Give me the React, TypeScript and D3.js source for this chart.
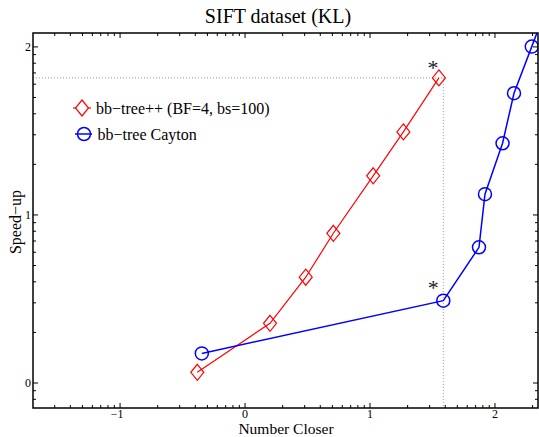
import React from 'react';
import * as d3 from 'd3';

// values (both axes are log10)
const bbTreePPX = [0.415, 1.585, 3.06, 5.09, 10.6, 18.5, 35.6];
const bbTreePPY = [1.158, 2.267, 4.26, 7.78, 17.1, 31.2, 65.4];
const caytonX = [0.451, 38.6, 74.5, 83.2, 115, 142, 197, 310];
const caytonY = [1.5, 3.09, 6.42, 13.3, 26.7, 53.0, 100.4, 245];
const seriesNames = ['bb\u2212tree++ (BF=4, bs=100)', 'bb\u2212tree Cayton'];
const starIndex = [6, 1];

const W = 539;
const H = 437;
const margin = { top: 33, right: 1, bottom: 29, left: 33 };
const font = '"Liberation Serif", "Times New Roman", serif';

function expLabel(v: number) {
  const e = Math.round(Math.log10(v));
  return e < 0 ? '\u2212' + Math.abs(e) : String(e);
}

function isMajor(v: number) {
  const l = Math.log10(v);
  return Math.abs(l - Math.round(l)) < 1e-6;
}

export default function App() {
  const x = d3
    .scaleLog()
    .domain([0.0201, 221])
    .range([margin.left, W - margin.right]);
  const y = d3
    .scaleLog()
    .domain([0.71, 121])
    .range([H - margin.bottom, margin.top]);

  const [x0, x1] = x.range();
  const [y0, y1] = y.range();

  const red = bbTreePPX.map((d, i) => [x(d), y(bbTreePPY[i])] as [number, number]);
  const blue = caytonX.map((d, i) => [x(d), y(caytonY[i])] as [number, number]);
  const line = d3.line();

  const inside = (p: [number, number]) => p[0] >= x0 - 1 && p[0] <= x1 + 1 && p[1] >= y1 - 1 && p[1] <= y0 + 1;

  const xt = x.ticks();
  const yt = y.ticks();

  const diamond = (cx: number, cy: number) =>
    `M${cx},${cy - 8}L${cx + 6.5},${cy}L${cx},${cy + 8}L${cx - 6.5},${cy}Z`;

  const redStar = red[starIndex[0]];
  const blueStar = blue[starIndex[1]];

  return (
    <svg width={W} height={H} style={{ position: 'absolute', left: 0, top: 0, background: '#fff' }}>
      <defs>
        <clipPath id="plot-clip">
          <rect x={x0} y={y1} width={x1 - x0} height={y0 - y1} />
        </clipPath>
      </defs>

      {/* reference dotted lines */}
      <g stroke="#9a9a9a" strokeWidth={1} strokeDasharray="1,2" fill="none">
        <line x1={x0} x2={blueStar[0]} y1={redStar[1]} y2={redStar[1]} />
        <line x1={blueStar[0]} x2={blueStar[0]} y1={redStar[1]} y2={y0} />
      </g>

      {/* ticks on all four sides, pointing inward */}
      <g stroke="#000" strokeWidth={1}>
        {xt.map((t, i) => {
          const len = isMajor(t) ? 5 : 3;
          return (
            <g key={'xt' + i}>
              <line x1={x(t)} x2={x(t)} y1={y0} y2={y0 - len} />
              <line x1={x(t)} x2={x(t)} y1={y1} y2={y1 + len} />
            </g>
          );
        })}
        {yt.map((t, i) => {
          const len = isMajor(t) ? 5 : 3;
          return (
            <g key={'yt' + i}>
              <line x1={x0} x2={x0 + len} y1={y(t)} y2={y(t)} />
              <line x1={x1} x2={x1 - len} y1={y(t)} y2={y(t)} />
            </g>
          );
        })}
      </g>

      <g fontFamily={font} fontSize={12} fill="#000">
        {xt.filter(isMajor).map((t, i) => (
          <text key={'xl' + i} x={x(t) + (t < 1 ? -3 : 0)} y={y0 + 10} textAnchor="middle">
            {expLabel(t)}
          </text>
        ))}
        {yt.filter(isMajor).map((t, i) => (
          <text key={'yl' + i} x={x0 - 2} y={y(t) + 4} textAnchor="end">
            {expLabel(t)}
          </text>
        ))}
      </g>

      {/* series */}
      <g clipPath="url(#plot-clip)" fill="none">
        <path d={line(red) || ''} stroke="#ff0000" strokeWidth={1.2} />
        {red.filter(inside).map((p, i) => (
          <path key={'rd' + i} d={diamond(p[0], p[1])} stroke="#ff0000" strokeWidth={1.2} fill="none" />
        ))}
        <path d={line(blue) || ''} stroke="#0000ff" strokeWidth={1.5} />
        {blue.filter(inside).map((p, i) => (
          <circle key={'bc' + i} cx={p[0]} cy={p[1]} r={6.5} stroke="#0000ff" strokeWidth={1.5} fill="none" />
        ))}
      </g>

      {/* star annotations */}
      <g fontFamily={font} fontSize={22} fill="#222" textAnchor="middle">
        <text x={redStar[0] - 6} y={redStar[1] - 3}>*</text>
        <text x={blueStar[0] - 10} y={blueStar[1] - 6}>*</text>
      </g>

      {/* axes box */}
      <rect x={x0} y={y1} width={x1 - x0} height={y0 - y1} fill="none" stroke="#000" strokeWidth={1.5} />

      {/* legend */}
      <g fontFamily={font} fontSize={16} fill="#000">
        <line x1={73} x2={91} y1={108} y2={108} stroke="#ff0000" strokeWidth={1.2} />
        <path d={diamond(82, 108)} stroke="#ff0000" strokeWidth={1.2} fill="#fff" />
        <text x={96} y={113.5}>{seriesNames[0]}</text>
        <line x1={75} x2={92} y1={134} y2={134} stroke="#0000ff" strokeWidth={1.5} />
        <circle cx={84} cy={134} r={6.5} stroke="#0000ff" strokeWidth={1.5} fill="none" />
        <text x={97.5} y={139.5}>{seriesNames[1]}</text>
      </g>

      {/* titles */}
      <text x={278} y={22.5} textAnchor="middle" fontFamily={font} fontSize={20}>
        SIFT dataset (KL)
      </text>
      <text x={286} y={434} textAnchor="middle" fontFamily={font} fontSize={15.5}>
        Number Closer
      </text>
      <text
        transform={`translate(21,222) rotate(-90)`}
        textAnchor="middle"
        fontFamily={font}
        fontSize={16}
      >
        Speed{'\u2212'}up
      </text>
    </svg>
  );
}
